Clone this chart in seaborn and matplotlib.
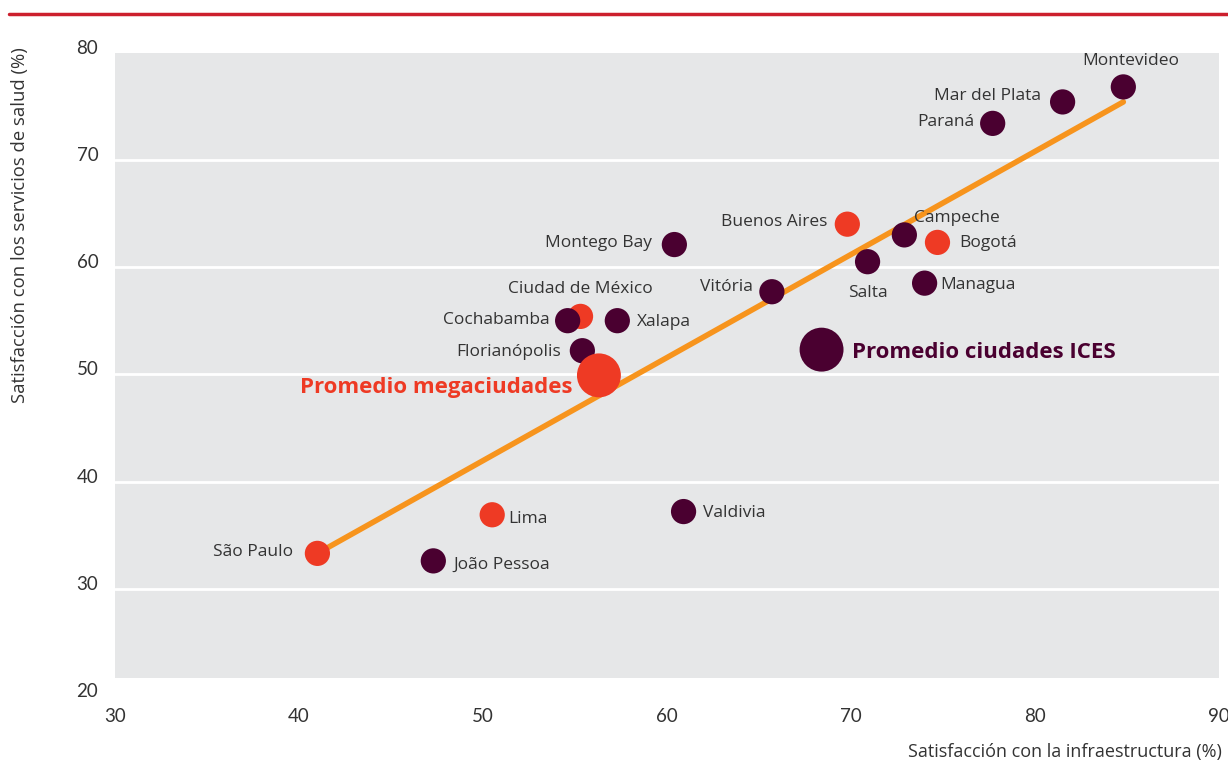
import matplotlib
matplotlib.use("Agg")
import matplotlib.pyplot as plt
import matplotlib.transforms as mtransforms
import pandas as pd
import seaborn as sns

# values
cities = ["São Paulo", "Lima", "Ciudad de México", "Buenos Aires", "Bogotá",
          "João Pessoa", "Valdivia", "Cochabamba", "Xalapa", "Florianópolis",
          "Montego Bay", "Vitória", "Salta", "Campeche", "Managua",
          "Paraná", "Mar del Plata", "Montevideo",
          "Promedio megaciudades", "Promedio ciudades ICES"]
infraestructura = [41.0, 50.5, 55.3, 69.8, 74.7,
                   47.3, 60.9, 54.6, 57.3, 55.4,
                   60.4, 65.7, 70.9, 72.9, 74.0,
                   77.7, 81.5, 84.8,
                   56.3, 68.4]
salud = [33.3, 36.9, 55.4, 64.0, 62.3,
         32.6, 37.2, 55.0, 55.0, 52.2,
         62.1, 57.7, 60.5, 63.0, 58.5,
         73.4, 75.4, 76.8,
         49.9, 52.3]
grupo = ["mega"] * 5 + ["ICES"] * 13 + ["mega", "ICES"]
tipo = ["ciudad"] * 18 + ["promedio"] * 2

# trend line end points
trend_x = [41.0, 84.8]
trend_y = [33.3, 75.4]

df = pd.DataFrame({"ciudad": cities, "infra": infraestructura, "salud": salud,
                   "grupo": grupo, "tipo": tipo})

PURPLE = "#4a0030"
RED = "#ee3a24"
ORANGE = "#f7941d"
BG = "#e6e7e8"
TXT = "#333333"
LBL_FONT = ["Open Sans", "DejaVu Sans"]

sns.set_theme(style="white")
plt.rcParams["font.family"] = ["Lato", "DejaVu Sans"]

fig = plt.figure(figsize=(12.28, 7.63), dpi=100)
ax = fig.add_axes([115 / 1228, 1 - 696 / 763, 1104 / 1228, (696 - 52.6) / 763])
ax.set_facecolor("white")
ax.axhspan(21.66, 80, color=BG, zorder=0, lw=0)
for yv in [30, 40, 50, 60, 70]:
    ax.axhline(yv, color="white", lw=2, zorder=1)

ax.plot(trend_x, trend_y, color=ORANGE, lw=4, solid_capstyle="round", zorder=2)

sns.scatterplot(data=df, x="infra", y="salud", hue="grupo", size="tipo",
                sizes={"ciudad": 330, "promedio": 1000},
                palette={"mega": RED, "ICES": PURPLE},
                linewidth=0, legend=False, ax=ax, zorder=3)

# label placement: (dx, dy) in pixels, ha
offsets = {
    "Montevideo": (7, 26, "center"),
    "Mar del Plata": (-22, 6, "right"),
    "Paraná": (-18, 1, "right"),
    "Buenos Aires": (-20, 2, "right"),
    "Campeche": (10, 17, "left"),
    "Bogotá": (22, -1, "left"),
    "Montego Bay": (-22, 2, "right"),
    "Salta": (0, -31, "center"),
    "Managua": (16, -2, "left"),
    "Vitória": (-19, 5, "right"),
    "Ciudad de México": (0, 27, "center"),
    "Cochabamba": (-18, 1, "right"),
    "Xalapa": (20, -1, "left"),
    "Florianópolis": (-21, -1, "right"),
    "Lima": (16, -4, "left"),
    "Valdivia": (19, -1, "left"),
    "São Paulo": (-24, 1, "right"),
    "João Pessoa": (20, -4, "left"),
}
for c, xv, yv in zip(cities, infraestructura, salud):
    if c in offsets:
        dx, dy, ha = offsets[c]
        ax.annotate(c, (xv, yv), xytext=(dx, dy), textcoords="offset pixels",
                    ha=ha, va="center", fontsize=12.5, color=TXT,
                    family=LBL_FONT, zorder=4)

ax.annotate("Promedio megaciudades", (56.3, 49.9), xytext=(-26, -12),
            textcoords="offset pixels", ha="right", va="center",
            fontsize=16, fontweight="bold", color=RED, family=LBL_FONT, zorder=4)
ax.annotate("Promedio ciudades ICES", (68.4, 52.3), xytext=(30, -3),
            textcoords="offset pixels", ha="left", va="center",
            fontsize=16, fontweight="bold", color=PURPLE, family=LBL_FONT,
            zorder=4)

ax.set_xlim(30, 90)
ax.set_ylim(20, 80)
ax.set_xticks(range(30, 91, 10))
ax.set_yticks(range(20, 81, 10))
ax.tick_params(axis="both", length=0, labelsize=13.5, colors=TXT)
ax.tick_params(axis="x", pad=9)
ax.tick_params(axis="y", pad=12)
shift = mtransforms.ScaledTranslation(0, 6 / 100, fig.dpi_scale_trans)
for lab in ax.get_yticklabels():
    lab.set_transform(lab.get_transform() + shift)
for s in ax.spines.values():
    s.set_visible(False)
ax.set_xlabel("")
ax.set_ylabel("")

fig.text(1222 / 1228, 1 - 752 / 763, "Satisfacción con la infraestructura (%)",
         ha="right", va="center", fontsize=13, color=TXT, family=LBL_FONT)
fig.text(20 / 1228, 1 - 225 / 763, "Satisfacción con los servicios de salud (%)",
         ha="center", va="center", rotation=90, fontsize=13.3, color=TXT,
         family=LBL_FONT)

# red rule at the top
fig.add_artist(plt.Line2D([9 / 1228, 1], [1 - 14 / 763, 1 - 14 / 763],
                          color="#cc1f2d", lw=2.5, transform=fig.transFigure))

fig.savefig("out.png", dpi=100)
